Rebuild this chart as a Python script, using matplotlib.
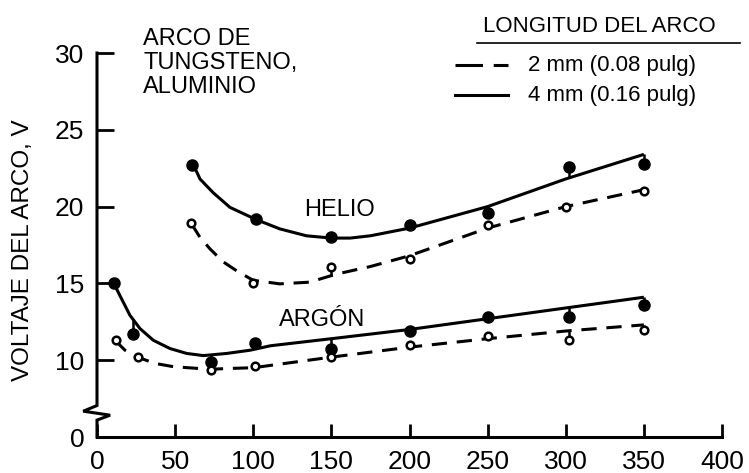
"""
Arc voltage vs. arc current for tungsten arc on aluminium (helium / argon).
"""
import numpy as np
import matplotlib.pyplot as plt
from matplotlib.lines import Line2D

plt.rcParams['font.family'] = ['Liberation Sans', 'DejaVu Sans']

# measured points (x = current, y = arc voltage)
helio_4mm_x = [61, 102, 150, 200, 250, 302, 350]
helio_4mm_y = [22.7, 19.2, 18.0, 18.8, 19.6, 22.6, 22.8]
helio_2mm_x = [60, 100, 150, 200, 250, 300, 350]
helio_2mm_y = [18.9, 15.0, 16.1, 16.6, 18.8, 20.0, 21.0]
argon_4mm_x = [11, 23, 73, 101, 150, 200, 250, 302, 350]
argon_4mm_y = [15.0, 11.7, 9.9, 11.1, 10.7, 11.9, 12.8, 12.8, 13.6]
argon_2mm_x = [12, 26, 73, 101, 150, 200, 250, 302, 350]
argon_2mm_y = [11.3, 10.2, 9.35, 9.6, 10.2, 11.0, 11.6, 11.3, 11.95]

# hand-drawn fitted curves
helio_4mm_fit_x = [61.6, 65.9, 74.4, 85.1, 102, 117, 134, 150, 162, 175, 200, 250, 300, 350]
helio_4mm_fit_y = [22.75, 21.8, 20.9, 19.95, 19.15, 18.55, 18.1, 17.95, 17.95, 18.1, 18.6, 20.0, 21.8, 23.4]
helio_2mm_fit_x = [60.6, 65.9, 72.3, 80.8, 90.4, 100, 117, 136, 153, 175, 200, 250, 300, 350]
helio_2mm_fit_y = [18.86, 18.0, 17.25, 16.4, 15.75, 15.2, 14.97, 15.08, 15.6, 16.1, 16.8, 18.6, 20.0, 21.1]
argon_4mm_fit_x = [10.4, 14.7, 21.1, 27.5, 36, 46.7, 57.4, 68, 83, 98, 111, 150, 200, 250, 300, 350]
argon_4mm_fit_y = [15.08, 14.2, 12.92, 12.06, 11.3, 10.76, 10.44, 10.3, 10.44, 10.65, 10.94, 11.4, 12.0, 12.7, 13.4, 14.1]
argon_2mm_fit_x = [11.5, 17.9, 25.4, 37.1, 48.8, 63.8, 74.4, 87.2, 100, 150, 200, 250, 300, 350]
argon_2mm_fit_y = [11.3, 10.65, 10.22, 9.79, 9.58, 9.47, 9.42, 9.47, 9.51, 10.2, 10.85, 11.4, 11.9, 12.3]

x_ticks = [0, 50, 100, 150, 200, 250, 300, 350, 400]
# axis is broken: the "0" tick sits where 5 would be
y_tick_pos = [5, 10, 15, 20, 25, 30]
y_tick_labels = ['0', '10', '15', '20', '25', '30']

LW = 2.2
DASH = (0, (5, 3.2))

fig = plt.figure(figsize=(7.49, 4.73), dpi=100)
ax = fig.add_axes([97 / 749, 1 - 437 / 473, 625 / 749, 384 / 473])
ax.set_xlim(0, 400)
ax.set_ylim(5, 30)


def draw_series(px, py, fx, fy, solid):
    ls = '-' if solid else DASH
    ax.plot(fx, fy, color='k', lw=LW, linestyle=ls, solid_capstyle='butt',
            dash_capstyle='butt', solid_joinstyle='round', zorder=3)
    # little stems joining the points to the curve
    cy = np.interp(px, fx, fy)
    ax.vlines(px, py, cy, color='k', lw=1.8, zorder=3)
    if solid:
        ax.plot(px, py, 'o', color='k', ms=8, zorder=4)
    else:
        ax.plot(px, py, 'o', mfc='white', mec='k', mew=1.8, ms=5.5, zorder=4)


draw_series(helio_4mm_x, helio_4mm_y, helio_4mm_fit_x, helio_4mm_fit_y, True)
draw_series(helio_2mm_x, helio_2mm_y, helio_2mm_fit_x, helio_2mm_fit_y, False)
draw_series(argon_4mm_x, argon_4mm_y, argon_4mm_fit_x, argon_4mm_fit_y, True)
draw_series(argon_2mm_x, argon_2mm_y, argon_2mm_fit_x, argon_2mm_fit_y, False)

# axes styling
for s in ['top', 'right', 'left']:
    ax.spines[s].set_visible(False)
ax.spines['bottom'].set_linewidth(2.2)
ax.set_xticks(x_ticks)
ax.set_yticks(y_tick_pos)
ax.set_yticklabels(y_tick_labels)
ax.tick_params(axis='x', direction='in', length=9.5, width=2, labelsize=19, pad=9)
ax.tick_params(axis='y', direction='in', length=12.5, width=2, labelsize=19, pad=9)

# left spine with break mark
ytr = ax.get_yaxis_transform()
ax.plot([0, 0, -0.022, 0.021, 0, 0], [30, 7.05, 6.68, 6.42, 6.1, 5],
        color='k', lw=2.2, transform=ytr, clip_on=False, solid_joinstyle='miter',
        zorder=5)

ax.text(155, 19.38, 'HELIO', fontsize=17, ha='center', va='baseline')
ax.text(144, 12.25, 'ARGÓN', fontsize=17, ha='center', va='baseline')

fig.text(143 / 749, 1 - 28 / 473, 'ARCO DE\nTUNGSTENO,\nALUMINIO', fontsize=17,
         ha='left', va='top', linespacing=1.13)
fig.text(23 / 749, 1 - 250 / 473, 'VOLTAJE DEL ARCO, V', fontsize=17.5,
         rotation=90, ha='center', va='center')

# legend, drawn by hand to match the original layout
fig.text(599 / 749, 1 - 27 / 473, 'LONGITUD DEL ARCO', fontsize=16,
         ha='center', va='center')
fig.add_artist(Line2D([477 / 749, 740 / 749], [1 - 43 / 473, 1 - 43 / 473],
                      color='k', lw=1.2))
fig.add_artist(Line2D([455 / 749, 508 / 749], [1 - 65 / 473, 1 - 65 / 473],
                      color='k', lw=LW, linestyle=(0, (9, 3.5))))
fig.add_artist(Line2D([455 / 749, 508 / 749], [1 - 95 / 473, 1 - 95 / 473],
                      color='k', lw=LW))
fig.text(528 / 749, 1 - 65 / 473, '2 mm (0.08 pulg)', fontsize=16, ha='left', va='center')
fig.text(528 / 749, 1 - 95 / 473, '4 mm (0.16 pulg)', fontsize=16, ha='left', va='center')

fig.savefig('out.png', dpi=100)
